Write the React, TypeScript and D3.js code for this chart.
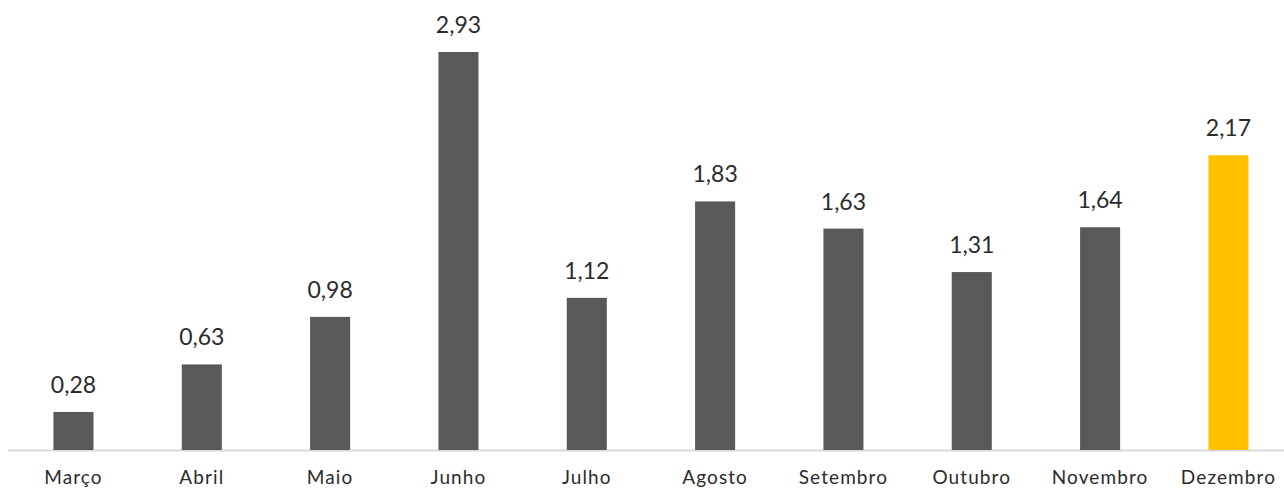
import React from "react";
import * as d3 from "d3";

const months = ["Março", "Abril", "Maio", "Junho", "Julho", "Agosto", "Setembro", "Outubro", "Novembro", "Dezembro"];
const values = [0.28, 0.63, 0.98, 2.93, 1.12, 1.83, 1.63, 1.31, 1.64, 2.17];
const highlightMonth = "Dezembro";

const W = 1284;
const H = 488;
const baseline = 450;
const fontFamily = "Lato, 'Open Sans', sans-serif";

export default function App() {
  const x = d3.scaleBand<string>().domain(months).range([9.3, 1292.6]).paddingInner(0.688).paddingOuter(0.344);
  const y = d3.scaleLinear().domain([0, 2.93]).range([baseline, 52]);
  const fmt = (v: number) => v.toFixed(2).replace(".", ",");

  return (
    <svg width={W} height={H} style={{ position: "absolute", left: 0, top: 0 }}>
      <line x1={8} x2={W} y1={baseline + 0.5} y2={baseline + 0.5} stroke="#d9d9d9" strokeWidth={2} />
      {months.map((m, i) => {
        const v = values[i];
        const bx = x(m)!;
        const cx = bx + x.bandwidth() / 2;
        return (
          <g key={m}>
            <rect x={bx} y={y(v)} width={x.bandwidth()} height={baseline - y(v)} fill={m === highlightMonth ? "#ffc000" : "#595959"} />
            <text x={cx} y={y(v) - 19} textAnchor="middle" fontFamily={fontFamily} fontSize={23} fill="#2b2b2b">
              {fmt(v)}
            </text>
            <text x={cx} y={484} textAnchor="middle" fontFamily={fontFamily} fontSize={19} letterSpacing={1.1} fill="#2b2b2b">
              {m}
            </text>
          </g>
        );
      })}
    </svg>
  );
}
